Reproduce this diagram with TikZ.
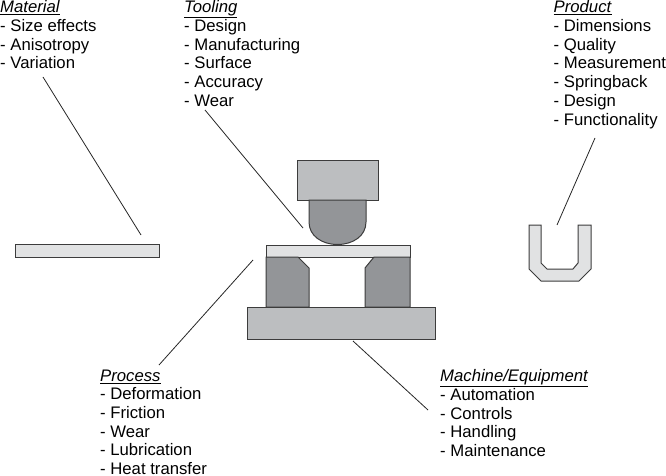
\documentclass[tikz,border=0pt]{standalone}
\usepackage{fontspec}
\setmainfont{Liberation Sans}
\definecolor{blockgray}{HTML}{BCBEC0}
\definecolor{diegray}{HTML}{939598}
\definecolor{sheetgray}{HTML}{E1E2E3}
\definecolor{edgegray}{HTML}{3C3C3C}
\tikzset{
  listing/.style={anchor=north west, inner sep=0pt, align=left, font=\fontsize{16.7}{18.7}\selectfont},
  part/.style={draw=edgegray, line width=1pt, line join=miter},
  leader/.style={draw=black!85, line width=0.8pt},
}
\newcommand{\heading}[1]{\underline{\textit{#1}}}

\begin{document}
\begin{tikzpicture}[x=1pt,y=-1pt]
  \useasboundingbox (0,0) rectangle (666,476);

  % tool stack
  \draw[part, fill=blockgray] (297,160) rectangle (378,200);
  \draw[part, fill=diegray] (309,200) -- (309,222) .. controls (309,236) and (322,244.5) .. (337.5,244.5)
    .. controls (353,244.5) and (366,236) .. (366,222) -- (366,200) -- cycle;
  \draw[part, fill=sheetgray] (266,245) rectangle (410,257);
  \draw[part, fill=diegray] (266,257) -- (298,257) -- (309,268) -- (309,307) -- (266,307) -- cycle;
  \draw[part, fill=diegray] (410,257) -- (374,257) -- (365,268) -- (365,307) -- (410,307) -- cycle;
  \draw[part, fill=blockgray] (247,307) rectangle (435,339);

  % blank and finished cup
  \draw[part, fill=sheetgray] (15,244) rectangle (159,257);
  \draw[part, fill=sheetgray] (529,225) -- (541,225) -- (541,263) -- (547,269) -- (573,269) -- (578,263)
    -- (578,225) -- (591,225) -- (591,269) -- (579,281) -- (541,281) -- (529,269) -- cycle;

  % text blocks
  \node[listing] (material) at (0,0.5) {\heading{Material}\\- Size effects\\- Anisotropy\\- Variation};
  \node[listing] (tooling) at (184,0.5) {\heading{Tooling}\\- Design\\- Manufacturing\\- Surface\\- Accuracy\\- Wear};
  \node[listing] (product) at (553.5,0.5) {\heading{Product}\\- Dimensions\\- Quality\\- Measurement\\- Springback\\- Design\\- Functionality};
  \node[listing] (process) at (100,369.5) {\heading{Process}\\- Deformation\\- Friction\\- Wear\\- Lubrication\\- Heat transfer};
  \node[listing] (machine) at (440,369.5) {\heading{Machine/Equipment}\\- Automation\\- Controls\\- Handling\\- Maintenance};

  % leaders
  \coordinate (materialend) at (43,77);
  \coordinate (materialtip) at (141,235);
  \coordinate (toolingend) at (205,110);
  \coordinate (toolingtip) at (303,228);
  \coordinate (productend) at (595,138);
  \coordinate (producttip) at (557,225);
  \coordinate (processend) at (159,365);
  \coordinate (processtip) at (253,260);
  \coordinate (machineend) at (428,410);
  \coordinate (machinetip) at (353,341);
  \draw[leader] (materialend) -- (materialtip);
  \draw[leader] (toolingend) -- (toolingtip);
  \draw[leader] (productend) -- (producttip);
  \draw[leader] (processend) -- (processtip);
  \draw[leader] (machineend) -- (machinetip);
\end{tikzpicture}
\end{document}
